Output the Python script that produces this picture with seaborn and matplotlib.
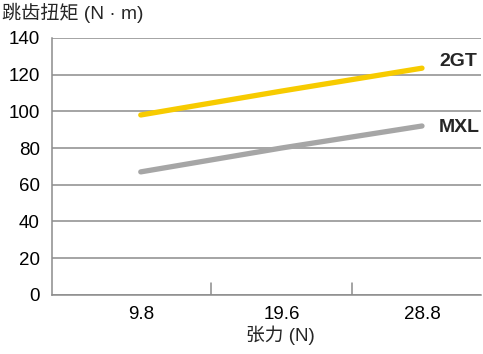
import pandas as pd
import seaborn as sns
import matplotlib.pyplot as plt

# data
tension = ["9.8", "19.6", "28.8"]
torque_2gt = [98, 111, 123.5]
torque_mxl = [67, 80, 92]
series = ["2GT", "MXL"]
colors = {"2GT": "#F7CB00", "MXL": "#A6A6A6"}

df = pd.DataFrame({
    "tension": tension * 2,
    "torque": torque_2gt + torque_mxl,
    "belt": ["2GT"] * 3 + ["MXL"] * 3,
})

sns.set_style("white")
plt.rcParams["font.family"] = ["Liberation Sans", "Noto Sans CJK SC", "DejaVu Sans"]

fig = plt.figure(figsize=(4.83, 3.54), dpi=100)
ax = fig.add_axes([0.108, 0.167, 0.888, 0.726])

sns.lineplot(data=df, x="tension", y="torque", hue="belt", palette=colors,
             linewidth=3.8, legend=False, ax=ax, sort=False)

ax.set_ylim(0, 140)
ax.set_yticks(range(0, 141, 20))
ax.set_xlim(-0.63, 2.42)
ax.grid(axis="y", color="#8c8c8c", linewidth=1.1)
ax.set_axisbelow(True)
ax.set_xticks([0, 1, 2])
ax.set_xticklabels(tension)
ax.tick_params(axis="both", length=0, labelsize=13.5, colors="black")
ax.tick_params(axis="x", pad=8)
ax.tick_params(axis="y", pad=9)

# small inward separators between categories
for xv in [0.5, 1.5]:
    ax.plot([xv, xv], [0, 6.5], color="#8c8c8c", linewidth=1.1, zorder=1)

for s in ["top", "right"]:
    ax.spines[s].set_visible(False)
for s in ["left", "bottom"]:
    ax.spines[s].set_color("#8c8c8c")
    ax.spines[s].set_linewidth(1.1)

ax.set_xlabel("")
ax.set_ylabel("")

# series labels at the right end
ax.text(2.12, torque_2gt[-1] + 3.5, "2GT", fontsize=14, fontweight="bold", ha="left", va="center")
ax.text(2.12, torque_mxl[-1] - 1, "MXL", fontsize=14, fontweight="bold", ha="left", va="center")

fig.text(0.004, 0.963, "跳齿扭矩 (N · m)", fontsize=13.8, ha="left", va="center")
fig.text(0.58, 0.052, "张力 (N)", fontsize=13.5, ha="center", va="center")

fig.savefig("out.png", dpi=100)
